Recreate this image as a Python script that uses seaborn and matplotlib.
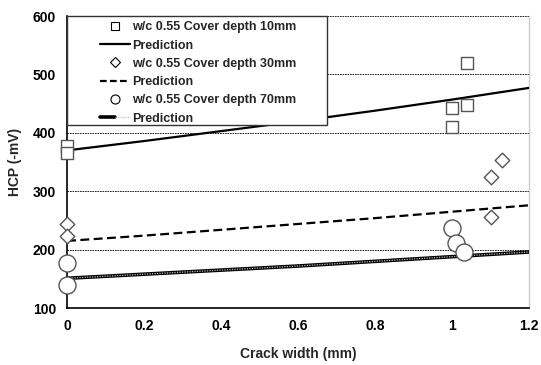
import numpy as np
import pandas as pd
import matplotlib
matplotlib.use("Agg")
import matplotlib.pyplot as plt
import seaborn as sns
from matplotlib.lines import Line2D
from matplotlib.patches import Rectangle
from matplotlib.legend_handler import HandlerTuple

# Observed data
x10 = [0.0, 0.0, 1.0, 1.0, 1.04, 1.04]
y10 = [378, 365, 442, 410, 448, 519]
x30 = [0.0, 0.0, 1.10, 1.10, 1.13]
y30 = [244, 223, 256, 324, 353]
x70 = [0.0, 0.0, 1.0, 1.01, 1.03]
y70 = [177, 139, 237, 211, 196]

# Prediction curves
px = [0.0, 0.2, 0.4, 0.6, 0.8, 1.0, 1.2]
p10 = [370, 386, 403, 420, 438, 457, 477]
p30 = [215, 224, 234, 244, 254, 265, 276]
p70 = [151, 158, 165, 172, 180, 188, 196]

labels = ["w/c 0.55 Cover depth 10mm", "w/c 0.55 Cover depth 30mm", "w/c 0.55 Cover depth 70mm"]

sns.set_theme(style="white")
plt.rcParams['font.family'] = ['Liberation Sans', 'DejaVu Sans']
plt.rcParams['font.weight'] = 'bold'

fig = plt.figure(figsize=(5.41, 3.65), dpi=100)
ax = fig.add_axes([0.124, 0.156, 0.854, 0.80])

pred = pd.DataFrame({"x": px, "p10": p10, "p30": p30, "p70": p70})
sns.lineplot(data=pred, x="x", y="p10", ax=ax, color="black", lw=1.6, zorder=3)
sns.lineplot(data=pred, x="x", y="p30", ax=ax, color="black", lw=1.6, linestyle=(0, (4, 2)), zorder=3)
sns.lineplot(data=pred, x="x", y="p70", ax=ax, color="black", lw=2.6, zorder=3)
sns.lineplot(data=pred, x="x", y="p70", ax=ax, color="#bbbbbb", lw=0.9, linestyle=(0, (1, 1)), zorder=3)

mec = "#555555"
sns.scatterplot(x=x10, y=y10, ax=ax, marker="s", s=70, facecolor="white", edgecolor=mec, linewidth=1.0, clip_on=False, zorder=4)
sns.scatterplot(x=x30, y=y30, ax=ax, marker="D", s=55, facecolor="white", edgecolor=mec, linewidth=1.0, clip_on=False, zorder=4)
sns.scatterplot(x=x70, y=y70, ax=ax, marker="o", s=150, facecolor="white", edgecolor=mec, linewidth=1.0, clip_on=False, zorder=4)

ax.set_xlim(0, 1.2)
ax.set_ylim(100, 600)
ax.set_xticks([0, 0.2, 0.4, 0.6, 0.8, 1.0, 1.2])
ax.set_xticklabels(["0", "0.2", "0.4", "0.6", "0.8", "1", "1.2"])
ax.set_yticks([100, 200, 300, 400, 500, 600])
for v in [200, 300, 400, 500, 600]:
    ax.axhline(v, color="black", lw=0.6, linestyle=(0, (2, 1)), zorder=1)

ax.tick_params(axis="both", direction="in", length=4, width=1, colors="black", labelsize=10, pad=8)
for lab in ax.get_xticklabels() + ax.get_yticklabels():
    lab.set_fontweight("bold")
ax.set_xlabel("Crack width (mm)", fontsize=10, fontweight="bold", labelpad=10)
ax.set_ylabel("HCP (-mV)", fontsize=10, fontweight="bold", labelpad=8)

for s in ["left", "bottom"]:
    ax.spines[s].set_color("black")
    ax.spines[s].set_linewidth(1.2)
ax.spines["top"].set_visible(False)
ax.spines["right"].set_color("#cccccc")
ax.spines["right"].set_linewidth(1.0)

# legend frame (drawn manually for the wide padding of the original)
frame = Rectangle((0, 0.627), 0.563, 0.373, transform=ax.transAxes, facecolor="white",
                  edgecolor="#333333", lw=1.0, zorder=5, clip_on=False)
ax.add_patch(frame)

h_sq = Line2D([], [], marker="s", ls="none", mfc="white", mec="black", ms=6, mew=0.8)
h_l1 = Line2D([], [], color="black", lw=1.6)
h_di = Line2D([], [], marker="D", ls="none", mfc="white", mec="black", ms=5, mew=0.8)
h_l2 = Line2D([], [], color="black", lw=1.6, ls=(0, (3, 1.5)))
h_ci = Line2D([], [], marker="o", ls="none", mfc="white", mec="black", ms=6.5, mew=0.8)
h_l3a = Line2D([], [], color="black", lw=2.6)
h_l3b = Line2D([], [], color="#bbbbbb", lw=0.9, ls=(0, (1, 1)))
handles = [h_sq, h_l1, h_di, h_l2, h_ci, (h_l3a, h_l3b)]
texts = [labels[0], "Prediction", labels[1], "Prediction", labels[2], "Prediction"]
leg = ax.legend(handles, texts, loc="upper left", bbox_to_anchor=(0.0714, 0.982), borderaxespad=0,
                frameon=False, prop={"weight": "bold", "size": 9}, handlelength=2.4,
                handletextpad=0.16, labelspacing=0.5, borderpad=0,
                handler_map={tuple: HandlerTuple(ndivide=None, pad=0)})
leg.set_zorder(6)

fig.savefig("out.png", dpi=100)
